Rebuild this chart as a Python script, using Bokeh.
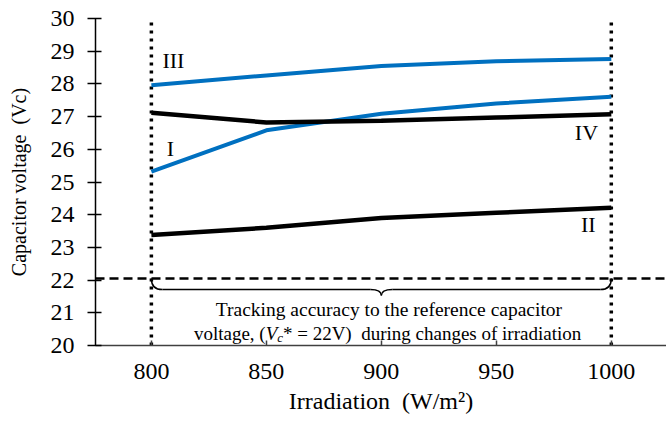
import math
from bokeh.plotting import figure
from bokeh.models import Label, Range1d, FixedTicker
from bokeh.embed import file_html
from bokeh.resources import INLINE

# ---- data ----
irradiance = [800, 850, 900, 950, 1000]
vc_I = [25.32, 26.58, 27.09, 27.40, 27.61]
vc_II = [23.38, 23.60, 23.90, 24.06, 24.21]
vc_III = [27.96, 28.26, 28.55, 28.69, 28.76]
vc_IV = [27.12, 26.82, 26.87, 26.97, 27.07]
vc_ref = 22.05
x_ticks = [800, 850, 900, 950, 1000]
y_ticks = [20, 21, 22, 23, 24, 25, 26, 27, 28, 29, 30]

FONT = "Liberation Serif"
BLUE = "#0070C0"

p = figure(width=666, height=419, output_backend="svg", toolbar_location=None,
           x_range=Range1d(775.7, 1024), y_range=Range1d(20, 30),
           min_border_left=95, min_border_right=0, min_border_top=18, min_border_bottom=74)
p.outline_line_color = None
p.xgrid.visible = False
p.ygrid.visible = False
p.background_fill_color = "white"

# axes
p.xaxis.ticker = FixedTicker(ticks=x_ticks)
p.yaxis.ticker = FixedTicker(ticks=y_ticks)
for ax in (p.xaxis[0], p.yaxis[0]):
    ax.major_label_text_font = FONT
    ax.major_label_text_font_size = "24px"
    ax.major_label_text_color = "black"
    ax.minor_tick_line_color = None
    ax.axis_line_width = 1.5
    ax.major_tick_line_width = 1.5
    ax.axis_label_text_font = FONT
    ax.axis_label_text_font_style = "normal"
    ax.axis_label_text_color = "black"
p.xaxis.axis_line_color = "#404040"
p.xaxis.major_tick_line_color = "#404040"
p.xaxis.major_tick_in = 5
p.xaxis.major_tick_out = 0
p.xaxis.major_label_standoff = 18
p.xaxis.axis_label = "Irradiation\u00a0 (W/m\u00b2)"
p.xaxis.axis_label_text_font_size = "24px"
p.xaxis.axis_label_standoff = 6
p.yaxis.axis_line_color = "black"
p.yaxis.major_tick_line_color = "black"
p.yaxis.major_tick_in = 6
p.yaxis.major_tick_out = 8
p.yaxis.major_label_standoff = 13
p.yaxis.axis_label = "Capacitor voltage\u00a0 (Vc)"
p.yaxis.axis_label_text_font_size = "20px"
p.yaxis.axis_label_standoff = 18

# reference dashed line
p.line([775.7, 1024], [vc_ref, vc_ref], line_color="black", line_width=2.5, line_dash="9 5")

# vertical dotted boundaries
for xv in (irradiance[0], irradiance[-1]):
    p.line([xv, xv], [20, 30], line_color="black", line_width=3.5, line_dash="3 5")

# series
p.line(irradiance, vc_III, line_color=BLUE, line_width=4)
p.line(irradiance, vc_I, line_color=BLUE, line_width=4)
p.line(irradiance, vc_IV, line_color="black", line_width=4.5)
p.line(irradiance, vc_II, line_color="black", line_width=4.5)

# brace below the reference line
x0, x1 = irradiance[0], irradiance[-1]
xm = (x0 + x1) / 2
ya, yt = 21.71, 21.53
d = 4.8
p.quadratic(x0=[x0, xm - d, xm, x1 - d], y0=[vc_ref, ya, yt, ya],
            x1=[x0 + d, xm, xm + d, x1], y1=[ya, yt, ya, vc_ref],
            cx=[x0, xm, xm, x1], cy=[ya, ya, ya, ya],
            line_color="black", line_width=1.5)
p.segment(x0=[x0 + d, xm + d], y0=[ya, ya], x1=[xm - d, x1 - d], y1=[ya, ya],
          line_color="black", line_width=1.5)

def lab(x, y, text, size="21px", align="center", baseline="middle", style="normal", angle=0.0):
    p.add_layout(Label(x=x, y=y, text=text, text_font=FONT, text_font_size=size,
                       text_align=align, text_baseline=baseline, text_font_style=style,
                       text_color="black", angle=angle))

# series labels
lab(809.6, 28.72, "III", size="22px")
lab(808.3, 26.02, "I", size="22px")
lab(989.2, 26.51, "IV", size="22px")
lab(990.0, 23.70, "II", size="22px")

# annotation text
lab(903.3, 21.086, "Tracking accuracy to the reference capacitor", size="19.5px", baseline="alphabetic")
lab(849.7, 20.352, "voltage, (", size="19px", align="right", baseline="alphabetic")
lab(849.7, 20.352, "V", size="19px", align="left", baseline="alphabetic", style="italic")
lab(854.7, 20.245, "c", size="13px", align="left", baseline="alphabetic", style="italic")
lab(857.2, 20.352, "* = 22V)\u00a0 during changes of irradiation", size="19px", align="left", baseline="alphabetic")

open("out.html", "w").write(file_html(p, INLINE))
